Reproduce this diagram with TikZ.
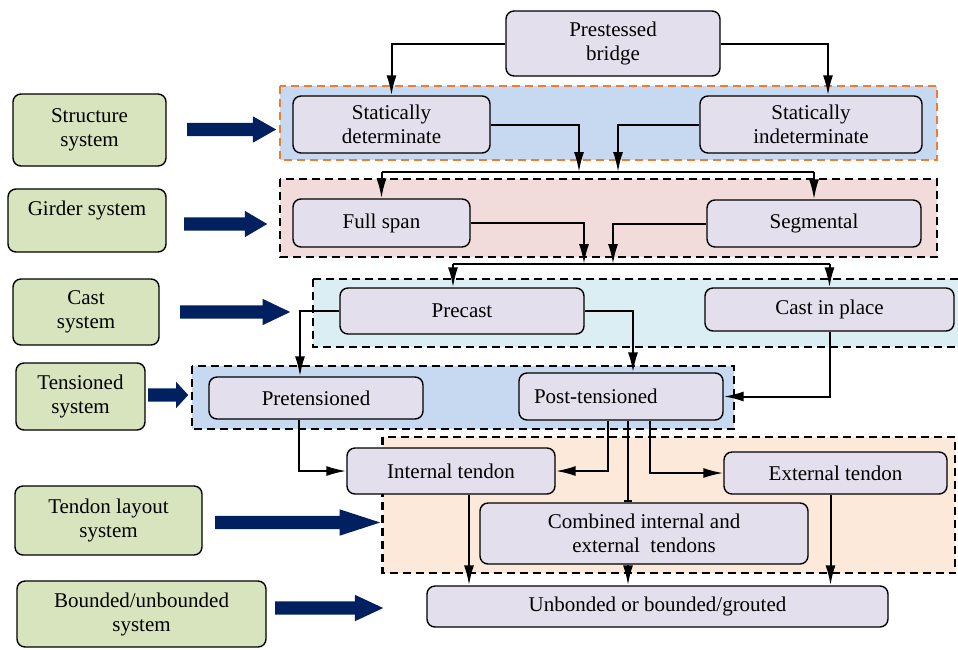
\documentclass[tikz,border=0pt]{standalone}
\usepackage{fontspec}
\setmainfont{Liberation Serif}
\usetikzlibrary{arrows.meta,shapes.arrows}

\definecolor{boxfill}{RGB}{228,223,236}
\definecolor{sysfill}{RGB}{215,228,189}
\definecolor{navy}{RGB}{0,32,96}
\definecolor{blueband}{RGB}{198,217,241}
\definecolor{pinkband}{RGB}{242,220,219}
\definecolor{cyanband}{RGB}{219,238,244}
\definecolor{peachband}{RGB}{253,233,217}
\definecolor{dashorange}{RGB}{237,125,49}

\tikzset{
  flowbox/.style={draw, line width=1.4pt, rounded corners=8pt, fill=boxfill, align=center, inner sep=0pt, font=\fontsize{21}{24}\selectfont},
  sysbox/.style={flowbox, fill=sysfill},
  band/.style={line width=2.2pt, dash pattern=on 8pt off 5pt},
  link/.style={line width=2pt, -{Latex[length=20pt,width=10pt]}},
  bigarrow/.style={single arrow, fill=navy, inner xsep=0pt, inner ysep=6.5pt, single arrow head extend=6.5pt, anchor=tail}
}

\begin{document}
\begin{tikzpicture}[x=1pt,y=-1pt]
\useasboundingbox (0,0) rectangle (958,649);

%Shape: Bands
\draw [band, dashorange, fill=blueband] (280,86) rectangle (937,160) ;
\draw [band, fill=pinkband] (280,179) rectangle (937,257) ;
\draw [band, fill=cyanband] (313,279) rectangle (964,347) ;
\draw [band, fill=blueband] (192,366) rectangle (734,429) ;
\draw [band, fill=peachband] (382.5,437) rectangle (955,573) ;

% Text Node
\node [flowbox, minimum width=214pt, minimum height=65pt] (pb) at (613,43.5) {Prestessed\\bridge};
% Text Node
\node [flowbox, minimum width=197pt, minimum height=57pt] (sd) at (391.5,124.5) {Statically\\determinate};
% Text Node
\node [flowbox, minimum width=222pt, minimum height=57pt] (si) at (811,124.5) {Statically\\indeterminate};
% Text Node
\node [flowbox, minimum width=177pt, minimum height=48pt] (fs) at (381.5,223) {Full span};
% Text Node
\node [flowbox, minimum width=214pt, minimum height=47pt] (seg) at (814,223.5) {Segmental};
% Text Node
\node [flowbox, minimum width=244pt, minimum height=46pt] (pc) at (462,311) {Precast};
% Text Node
\node [flowbox, minimum width=249pt, minimum height=43pt] (cip) at (829.5,309.5) {Cast in place};
% Text Node
\node [flowbox, minimum width=214pt, minimum height=42pt] (pre) at (316,398) {Pretensioned};
% Text Node
\node [flowbox, text width=174pt, inner xsep=15pt, align=left, minimum height=47pt] (post) at (621,396.5) {Post-tensioned};
% Text Node
\node [flowbox, minimum width=208pt, minimum height=46pt] (it) at (451,471) {Internal tendon};
% Text Node
\node [flowbox, minimum width=223pt, minimum height=42pt] (et) at (835.5,473) {External tendon};
% Text Node
\node [flowbox, minimum width=328pt, minimum height=61pt] (cb) at (644,533.5) {Combined internal and\\external~ tendons};
% Text Node
\node [flowbox, minimum width=461pt, minimum height=41pt] (ub) at (657.5,606.5) {Unbonded or bounded/grouted};

% Text Node
\node [sysbox, minimum width=153pt, minimum height=72pt] (ss) at (89.5,130) {Structure\\system};
% Text Node
\node [sysbox, minimum width=158pt, minimum height=63pt] (gs) at (87,220.5) {Girder system\\\mbox{}};
% Text Node
\node [sysbox, minimum width=146pt, minimum height=66pt] (cs) at (86,312) {Cast\\system};
% Text Node
\node [sysbox, minimum width=129pt, minimum height=67pt] (ts) at (80.5,396.5) {Tensioned\\system};
% Text Node
\node [sysbox, minimum width=187pt, minimum height=69pt] (tl) at (108.5,520.5) {Tendon layout\\system};
% Text Node
\node [sysbox, minimum width=249pt, minimum height=66pt] (bu) at (141.5,614) {Bounded/unbounded\\system};

%Shape: Block arrows
\node [bigarrow, minimum height=89pt, single arrow tip angle=59] (ssarrow) at (187,129.5) {};
\node [bigarrow, minimum height=83pt, single arrow tip angle=61] (gsarrow) at (184,224) {};
\node [bigarrow, minimum height=110pt, single arrow tip angle=51] (csarrow) at (180,312) {};
\node [bigarrow, minimum height=40pt, single arrow tip angle=95] (tsarrow) at (148,395) {};
\node [bigarrow, minimum height=165pt, single arrow tip angle=36] (tlarrow) at (215,522.5) {};
\node [bigarrow, minimum height=108pt, single arrow tip angle=50] (buarrow) at (275,608) {};

\coordinate (m1) at (579,172);
\coordinate (m2) at (618,172);
\coordinate (m3) at (584,264);
\coordinate (m4) at (613,264);

%Straight Lines
\draw [link] (pb.west) -| (sd.north) ;
\draw [link] (pb.east) -| ([xshift=17pt]si.north) ;
\draw [link] (sd.east) -| (m1) ;
\draw [link] (si.west) -| (m2) ;
\draw [line width=2pt] (m1 -| fs.north) -- (m1 -| seg.north) ;
\draw [link] (m1 -| fs.north) -- (fs.north) ;
\draw [link] (m1 -| seg.north) -- (seg.north) ;
\draw [link] (fs.east) -| (m3) ;
\draw [link] (seg.west) -| (m4) ;
\draw [line width=2pt] (m3 -| pc.north) ++(-9,0) -- (m3 -| cip.north) ;
\draw [link] ([xshift=-9pt]pc.north |- m3) -- ([xshift=-9pt]pc.north) ;
\draw [link] (m3 -| cip.north) -- (cip.north) ;
\draw [link] (pc.west) -| ([xshift=-16pt]pre.north) ;
\draw [link] (pc.east) -| ([xshift=12pt]post.north) ;
\draw [link] (cip.south) |- (post.east) ;
\draw [link] ([xshift=-17pt]pre.south) |- (it.west) ;
\draw [link] ([xshift=-13pt]post.south) |- (it.east) ;
\draw [line width=2pt, -{Bar[width=8pt]}] ([xshift=7pt]post.south) -- ([xshift=7pt]post.south |- cb.north) ;
\draw [link] ([xshift=29pt]post.south) |- (et.west) ;
\draw [link] ([xshift=18pt]it.south) -- ([xshift=18pt]it.south |- ub.north) ;
\draw [link] ([xshift=-16pt]cb.south) -- ([xshift=-16pt]cb.south |- ub.north) ;
\draw [link] ([xshift=-5pt]et.south) -- ([xshift=-5pt]et.south |- ub.north) ;

\end{tikzpicture}
\end{document}
